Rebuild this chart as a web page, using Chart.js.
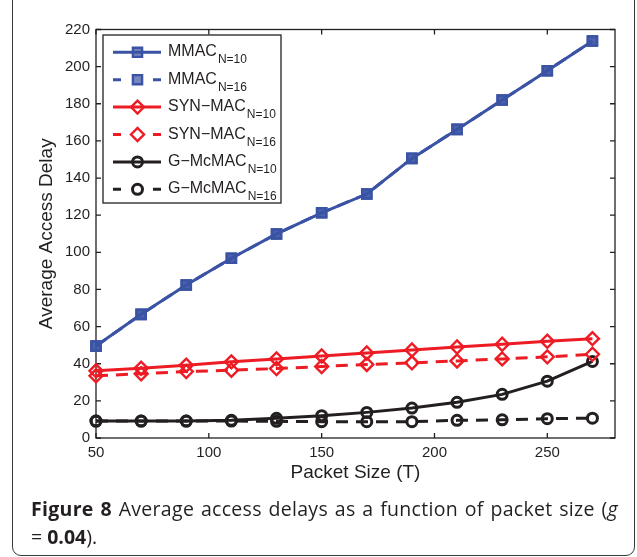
<!DOCTYPE html>
<html lang="en">
<head>
  <meta charset="utf-8">
  <title>Average access delays vs packet size</title>
  <script src="https://cdn.jsdelivr.net/npm/chart.js"></script>
  <style>
    html, body { margin: 0; padding: 0; background: #fff; }
    body { width: 637px; height: 557px; position: relative; overflow: hidden; }
    #chart { position: absolute; left: 0; top: 0; }
    .frame {
      position: absolute; left: 12px; top: -20px;
      width: 623px; height: 576px;
      border: 1.5px solid #3a3a3a; border-radius: 9px;
      box-sizing: border-box; pointer-events: none;
    }
    .caption {
      position: absolute; left: 31px; top: 495px; width: 587px;
      font-family: "Open Sans", sans-serif; font-size: 19.5px;
      line-height: 28px; color: #231f20; white-space: nowrap;
    }
    .caption .l1 { text-align: justify; text-align-last: justify; letter-spacing: 0.3px; }
    .caption b { font-weight: 700; }
  </style>
</head>
<body>
  <canvas id="chart" width="637" height="490"></canvas>
  <div class="frame"></div>
  <div class="caption">
    <div class="l1"><b>Figure 8</b> Average access delays as a function of packet size (<i>g</i></div>
    <div>= <b>0.04</b>).</div>
  </div>

  <script>
    // data
    const packetSizes = [50, 70, 90, 110, 130, 150, 170, 190, 210, 230, 250, 270];
    const mmacN10 = [49.5, 66.6, 82.4, 96.8, 109.9, 121.3, 131.4, 150.6, 166.2, 182, 197.8, 213.8];
    const mmacN16 = [49.5, 66.6, 82.4, 96.8, 109.9, 121.3, 131.4, 150.6, 166.2, 182, 197.8, 213.8];
    const synN10 = [36.2, 37.6, 39.2, 41, 42.6, 44.2, 45.8, 47.4, 49, 50.5, 52.1, 53.5];
    const synN16 = [33.5, 34.6, 35.8, 36.5, 37.4, 38.5, 39.6, 40.5, 41.5, 42.6, 43.7, 45.1];
    const gmcN10 = [9.1, 9.1, 9.1, 9.5, 10.6, 12, 13.8, 16.1, 19.2, 23.5, 30.6, 41.2];
    const gmcN16 = [9.1, 9.1, 9.1, 9.1, 9.0, 8.8, 8.8, 8.8, 9.5, 9.8, 10.4, 10.7];

    const seriesNames = ['MMAC', 'MMAC', 'SYN\u2212MAC', 'SYN\u2212MAC', 'G\u2212McMAC', 'G\u2212McMAC'];
    const seriesSubs = ['N=10', 'N=16', 'N=10', 'N=16', 'N=10', 'N=16'];
    const xTickValues = [50, 100, 150, 200, 250];
    const yTickValues = [0, 20, 40, 60, 80, 100, 120, 140, 160, 180, 200, 220];

    const BLUE = '#3a53a4', RED = '#ed1c24', BLACK = '#231f20';
    const DASH = [12, 8];

    function pts(values) {
      return packetSizes.map((x, i) => ({ x: x, y: values[i] }));
    }

    function series(i, values, color, style, dashed, radius, fill, pw) {
      return {
        label: seriesNames[i] + ' ' + seriesSubs[i],
        data: pts(values),
        borderColor: color,
        borderWidth: 3,
        borderDash: dashed ? DASH : [],
        pointStyle: style,
        pointRadius: radius,
        pointBorderWidth: pw,
        pointBorderColor: color,
        pointBackgroundColor: fill,
        tension: 0,
        clip: false
      };
    }

    // axes box with inward ticks, MATLAB style
    const boxPlugin = {
      id: 'box',
      beforeDatasetsDraw(chart) {
        const { ctx, chartArea: a, scales } = chart;
        ctx.save();
        ctx.strokeStyle = BLACK;
        ctx.lineWidth = 1.3;
        ctx.strokeRect(a.left, a.top, a.right - a.left, a.bottom - a.top);
        ctx.beginPath();
        xTickValues.forEach(v => {
          const px = scales.x.getPixelForValue(v);
          ctx.moveTo(px, a.bottom); ctx.lineTo(px, a.bottom - 5);
          ctx.moveTo(px, a.top); ctx.lineTo(px, a.top + 5);
        });
        yTickValues.forEach(v => {
          const py = scales.y.getPixelForValue(v);
          ctx.moveTo(a.left, py); ctx.lineTo(a.left + 5, py);
          ctx.moveTo(a.right, py); ctx.lineTo(a.right - 5, py);
        });
        ctx.stroke();
        ctx.restore();
      }
    };

    function drawMarker(ctx, style, x, y, r) {
      ctx.beginPath();
      if (style === 'circle') {
        ctx.arc(x, y, r, 0, Math.PI * 2);
      } else if (style === 'rectRot') {
        ctx.moveTo(x - r, y); ctx.lineTo(x, y - r);
        ctx.lineTo(x + r, y); ctx.lineTo(x, y + r);
        ctx.closePath();
      } else {
        const s = r * Math.SQRT1_2;
        ctx.rect(x - s, y - s, 2 * s, 2 * s);
      }
      ctx.fill();
      ctx.stroke();
    }

    // legend with subscripts
    const legendPlugin = {
      id: 'subLegend',
      afterDatasetsDraw(chart) {
        const ctx = chart.ctx;
        const bx = 103, by = 35, bw = 178, bh = 168;
        ctx.save();
        ctx.fillStyle = '#fff';
        ctx.fillRect(bx, by, bw, bh);
        ctx.strokeStyle = BLACK;
        ctx.lineWidth = 1.3;
        ctx.strokeRect(bx, by, bw, bh);
        chart.data.datasets.forEach((ds, i) => {
          const cy = 52.3 + i * 27.4;
          ctx.strokeStyle = ds.borderColor;
          ctx.lineWidth = 3;
          ctx.setLineDash(ds.borderDash.length ? [8, 32] : []);
          ctx.beginPath();
          ctx.moveTo(113, cy); ctx.lineTo(161, cy);
          ctx.stroke();
          ctx.setLineDash([]);
          ctx.lineWidth = ds.pointBorderWidth;
          ctx.fillStyle = ds.pointBackgroundColor;
          drawMarker(ctx, ds.pointStyle, 137.5, cy, ds.pointRadius);
          ctx.fillStyle = '#231f20';
          ctx.textBaseline = 'alphabetic';
          ctx.font = '16px "Liberation Sans", Arial, sans-serif';
          ctx.fillText(seriesNames[i], 168, cy + 4);
          const w = ctx.measureText(seriesNames[i]).width;
          ctx.font = '12px "Liberation Sans", Arial, sans-serif';
          ctx.fillText(seriesSubs[i], 168 + w + 1, cy + 11);
        });
        ctx.restore();
      }
    };

    const tickFont = { family: '"Liberation Sans", Arial, sans-serif', size: 15 };
    const titleFont = { family: '"Liberation Sans", Arial, sans-serif', size: 19 };

    new Chart(document.getElementById('chart').getContext('2d'), {
      type: 'line',
      data: {
        datasets: [
          series(0, mmacN10, BLUE, 'rect', false, 6.5, 'rgba(58,83,164,0.7)', 2.4),
          series(1, mmacN16, BLUE, 'rect', true, 6.5, 'rgba(58,83,164,0.7)', 2.4),
          series(2, synN10, RED, 'rectRot', false, 6.5, 'rgba(255,255,255,0)', 2.4),
          series(3, synN16, RED, 'rectRot', true, 6.5, 'rgba(255,255,255,0)', 2.4),
          series(4, gmcN10, BLACK, 'circle', false, 5, 'rgba(255,255,255,0)', 3),
          series(5, gmcN16, BLACK, 'circle', true, 5, 'rgba(255,255,255,0)', 3)
        ]
      },
      options: {
        responsive: false,
        animation: false,
        layout: { padding: { left: 0, right: 22, top: 29.5, bottom: 0 } },
        plugins: { legend: { display: false }, tooltip: { enabled: false } },
        scales: {
          x: {
            type: 'linear', min: 50, max: 280,
            afterBuildTicks: s => { s.ticks = xTickValues.map(v => ({ value: v })); },
            afterFit: s => { s.height = 52; },
            grid: { display: false, drawTicks: false, tickLength: 0 }, border: { display: false },
            ticks: { font: tickFont, color: '#231f20', padding: 6, maxRotation: 0 },
            title: { display: true, text: 'Packet Size (T)', font: titleFont, color: '#231f20', padding: { top: 0, bottom: 6 } }
          },
          y: {
            type: 'linear', min: 0, max: 220,
            afterBuildTicks: s => { s.ticks = yTickValues.map(v => ({ value: v })); },
            afterFit: s => { s.width = 96; },
            grid: { display: false, drawTicks: false, tickLength: 0 }, border: { display: false },
            ticks: { font: tickFont, color: '#231f20', padding: 6 },
            title: { display: true, text: 'Average Access Delay', font: titleFont, color: '#231f20', padding: { top: 35, bottom: 0 } }
          }
        }
      },
      plugins: [boxPlugin, legendPlugin]
    });
  </script>
</body>
</html>
